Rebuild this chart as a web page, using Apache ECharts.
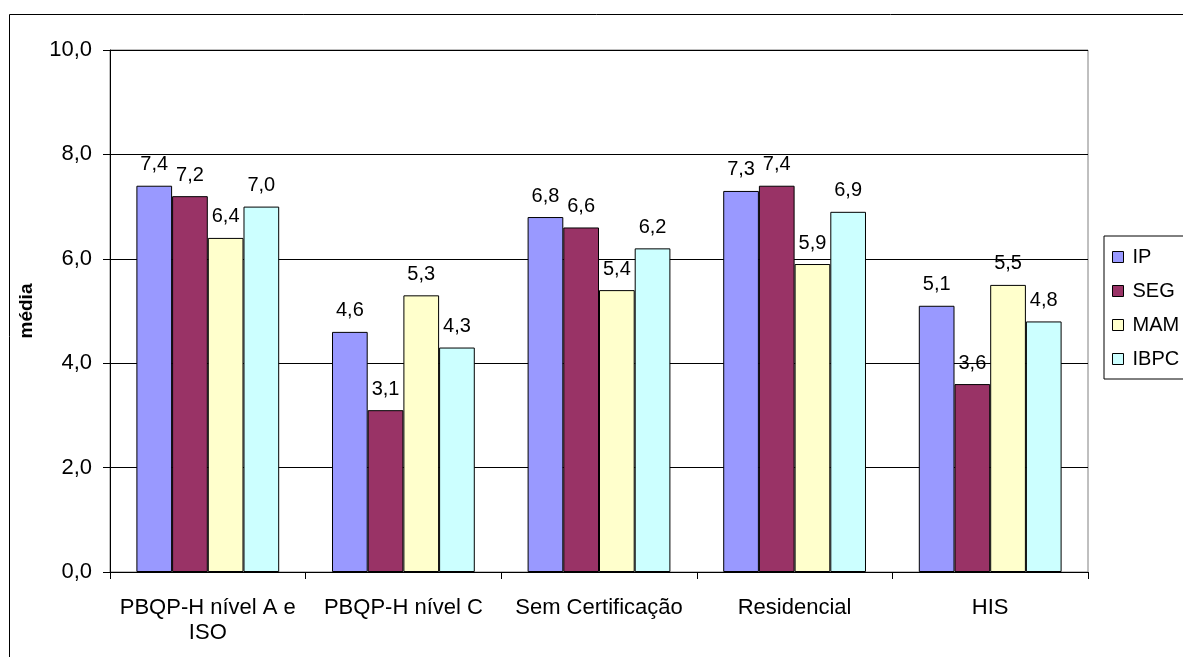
<!DOCTYPE html>
<html>
<head>
<meta charset="utf-8">
<script src="https://cdn.jsdelivr.net/npm/echarts@6/dist/echarts.min.js"></script>
<style>
    html, body { margin: 0; padding: 0; background: #fff; }
    #chart { width: 1183px; height: 657px; }
</style>
</head>
<body>
<div id="chart"></div>
<script>
var categories = ['PBQP-H nível A e\nISO', 'PBQP-H nível C', 'Sem Certificação', 'Residencial', 'HIS'];
var ipValues = [7.4, 4.6, 6.8, 7.3, 5.1];
var segValues = [7.2, 3.1, 6.6, 7.4, 3.6];
var mamValues = [6.4, 5.3, 5.4, 5.9, 5.5];
var ibpcValues = [7.0, 4.3, 6.2, 6.9, 4.8];

var chart = echarts.init(document.getElementById('chart'));

function fmt(v) {
    return v.toFixed(1).replace('.', ',');
}

function makeSeries(name, data, color) {
    return {
        name: name,
        type: 'bar',
        data: data,
        barGap: '0%',
        barCategoryGap: '27%',
        itemStyle: {
            color: color,
            borderColor: '#000',
            borderWidth: 1
        },
        label: {
            show: true,
            position: 'top',
            distance: 11,
            color: '#000',
            fontSize: 20,
            formatter: function (p) { return fmt(p.value); }
        }
    };
}

var option = {
    animation: false,
    textStyle: { fontFamily: 'Liberation Sans, Arial' },
    grid: {
        left: 110,
        right: 95,
        top: 50,
        bottom: 85,
        show: true,
        borderColor: '#808080',
        borderWidth: 1
    },
    legend: {
        orient: 'vertical',
        left: 1104,
        top: 236,
        padding: [11, 30, 10, 8],
        itemGap: 14,
        itemWidth: 11,
        itemHeight: 11,
        icon: 'rect',
        borderColor: '#000',
        borderWidth: 1,
        textStyle: { fontSize: 20, color: '#000', padding: [0, 0, 0, 4] },
        itemStyle: { borderColor: '#000', borderWidth: 1 },
        data: ['IP', 'SEG', 'MAM', 'IBPC']
    },
    xAxis: {
        type: 'category',
        data: categories,
        axisLine: { lineStyle: { color: '#000', width: 1 } },
        axisTick: { show: true, length: 7, lineStyle: { color: '#000' } },
        axisLabel: {
            color: '#000',
            fontSize: 22,
            margin: 23,
            lineHeight: 25,
            interval: 0
        }
    },
    yAxis: {
        type: 'value',
        min: 0,
        max: 10,
        interval: 2,
        name: 'média',
        nameLocation: 'middle',
        nameGap: 74,
        nameTextStyle: { fontSize: 19, fontWeight: 'bold', color: '#000' },
        axisLine: { show: true, lineStyle: { color: '#000', width: 1 } },
        axisTick: { show: true, length: 7, inside: false, lineStyle: { color: '#000' } },
        splitLine: { show: true, lineStyle: { color: '#000', width: 1 } },
        axisLabel: {
            color: '#000',
            fontSize: 22,
            margin: 18,
            formatter: function (v) { return fmt(v); }
        }
    },
    graphic: [{
        type: 'rect',
        shape: { x: 9.5, y: 14.5, width: 1400, height: 800 },
        style: { fill: 'none', stroke: '#000', lineWidth: 1 },
        silent: true,
        z: -1
    }],
    series: [
        makeSeries('IP', ipValues, '#9999FF'),
        makeSeries('SEG', segValues, '#993366'),
        makeSeries('MAM', mamValues, '#FFFFCC'),
        makeSeries('IBPC', ibpcValues, '#CCFFFF')
    ]
};

chart.setOption(option);
</script>
</body>
</html>
